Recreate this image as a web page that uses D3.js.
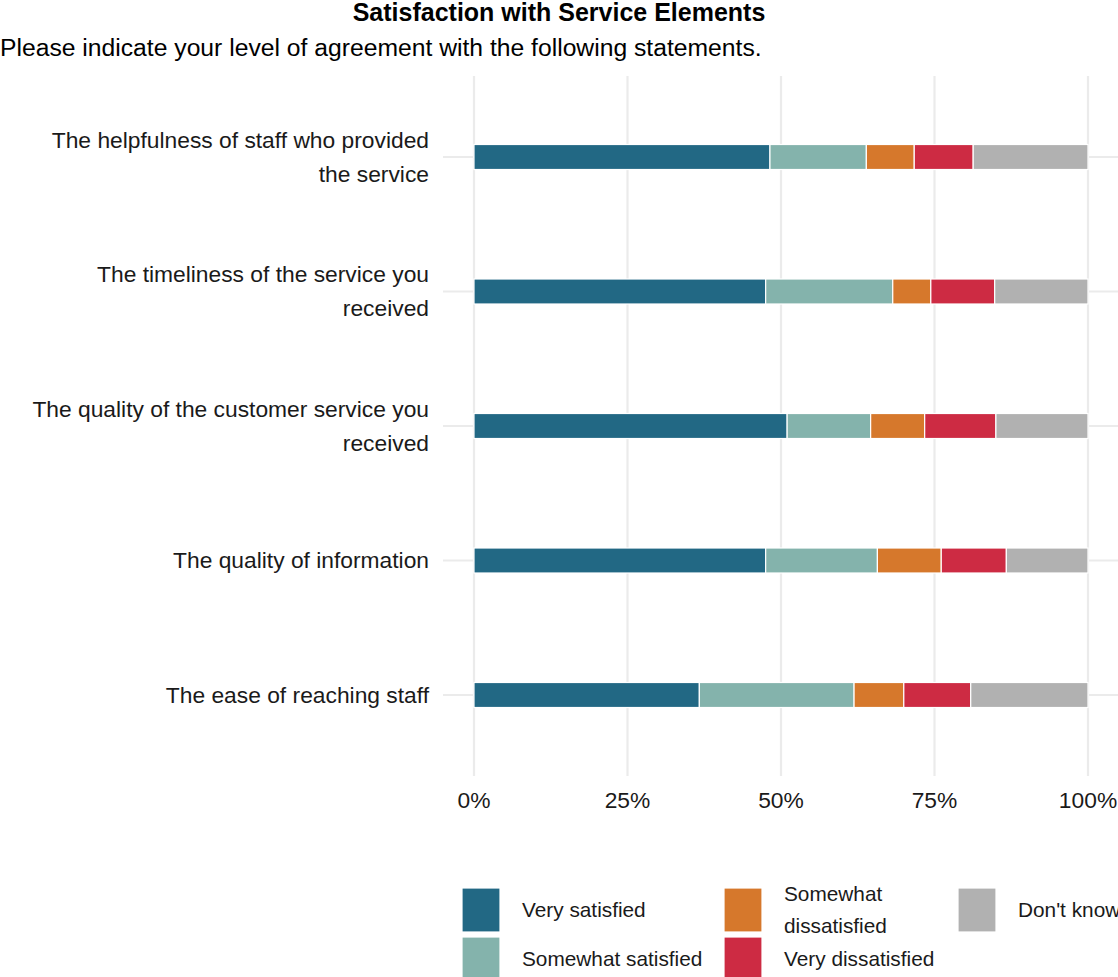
<!DOCTYPE html>
<html>
<head>
<meta charset="utf-8">
<script src="https://cdn.jsdelivr.net/npm/d3@7"></script>
<style>
  body { margin: 0; background: #fff; }
  text { font-family: "Liberation Sans", Arial, sans-serif; }
</style>
</head>
<body>
<svg id="chart" width="1118" height="977"></svg>
<script>
// data (percent of respondents)
var categories = [
  "The helpfulness of staff who provided the service",
  "The timeliness of the service you received",
  "The quality of the customer service you received",
  "The quality of information",
  "The ease of reaching staff"
];
var responses = ["Very satisfied", "Somewhat satisfied", "Somewhat dissatisfied", "Very dissatisfied", "Don't know"];
var verySatisfied     = [48.2, 47.5, 51.0, 47.5, 36.7];
var somewhatSatisfied = [15.7, 20.7, 13.6, 18.2, 25.2];
var somewhatDissat    = [7.8, 6.2, 8.8, 10.4, 8.1];
var veryDissat        = [9.6, 10.4, 11.6, 10.6, 10.9];
var dontKnow          = [18.7, 15.2, 15.0, 13.3, 19.1];
var colours = ["#226884", "#84b3ac", "#d6782c", "#cd2b43", "#b1b1b1"];
var xTicks = [0, 0.25, 0.5, 0.75, 1];

var svg = d3.select("#chart");

var rows = categories.map(function(c, i) {
  return {
    cat: c,
    "Very satisfied": verySatisfied[i],
    "Somewhat satisfied": somewhatSatisfied[i],
    "Somewhat dissatisfied": somewhatDissat[i],
    "Very dissatisfied": veryDissat[i],
    "Don't know": dontKnow[i]
  };
});
// normalise each row to 1
var stacked = d3.stack().keys(responses).offset(d3.stackOffsetExpand)(rows);

var x = d3.scaleLinear().domain([0, 1]).range([474, 1088]);
var y = d3.scalePoint().domain(categories).range([157, 695]);
var colour = d3.scaleOrdinal().domain(responses).range(colours);
var panel = {left: 443, right: 1118, top: 76, bottom: 776};
var barH = 25;

// grid
svg.append("g").selectAll("line.v")
  .data(xTicks).enter().append("line")
  .attr("x1", function(d) { return x(d); })
  .attr("x2", function(d) { return x(d); })
  .attr("y1", panel.top).attr("y2", panel.bottom)
  .attr("stroke", "#ebebeb").attr("stroke-width", 2.2);
svg.append("g").selectAll("line.h")
  .data(categories).enter().append("line")
  .attr("x1", panel.left).attr("x2", panel.right)
  .attr("y1", function(d) { return y(d); })
  .attr("y2", function(d) { return y(d); })
  .attr("stroke", "#ebebeb").attr("stroke-width", 2.2);

// bars
svg.append("g").selectAll("g")
  .data(stacked).enter().append("g")
  .attr("fill", function(d) { return colour(d.key); })
  .selectAll("rect")
  .data(function(d) { return d; }).enter().append("rect")
  .attr("x", function(d) { return x(d[0]); })
  .attr("width", function(d) { return x(d[1]) - x(d[0]); })
  .attr("y", function(d) { return y(d.data.cat) - barH / 2; })
  .attr("height", barH)
  .attr("stroke", "#ffffff").attr("stroke-width", 1.2);

// y labels, wrapped at 40 chars like str_wrap
function wrap(s, w) {
  var words = s.split(" "), lines = [], cur = "";
  words.forEach(function(wd) {
    if (cur && (cur + " " + wd).length > w) { lines.push(cur); cur = wd; }
    else cur = cur ? cur + " " + wd : wd;
  });
  lines.push(cur);
  return lines;
}
var lineH = 34;
svg.append("g").selectAll("text")
  .data(categories).enter().append("text")
  .attr("text-anchor", "end")
  .attr("font-size", 22.8)
  .attr("fill", "#1a1a1a")
  .each(function(d) {
    var lines = wrap(d, 40);
    var t = d3.select(this);
    lines.forEach(function(l, i) {
      t.append("tspan")
        .attr("x", 429)
        .attr("y", y(d) + (i - (lines.length - 1) / 2) * lineH)
        .attr("dy", "0.35em")
        .text(l);
    });
  });

// x axis labels
svg.append("g").selectAll("text")
  .data(xTicks).enter().append("text")
  .attr("x", function(d) { return x(d); })
  .attr("y", 800).attr("dy", "0.35em")
  .attr("text-anchor", "middle")
  .attr("font-size", 22.8).attr("fill", "#1a1a1a")
  .text(d3.format(".0%"));

// titles
svg.append("text")
  .attr("x", 559).attr("y", 21)
  .attr("text-anchor", "middle")
  .attr("font-size", 25).attr("font-weight", "bold")
  .text("Satisfaction with Service Elements");
svg.append("text")
  .attr("x", 0).attr("y", 56)
  .attr("font-size", 24.7)
  .text("Please indicate your level of agreement with the following statements.");

// legend: 3 columns, filled by column
var legCols = [462, 724, 958];
var legRows = [888, 937];
var keyW = 38, keyH = 44;
var leg = svg.append("g").selectAll("g")
  .data(responses).enter().append("g")
  .attr("transform", function(d, i) {
    return "translate(" + legCols[Math.floor(i / 2)] + "," + legRows[i % 2] + ")";
  });
leg.append("rect")
  .attr("width", keyW).attr("height", keyH)
  .attr("fill", function(d) { return colour(d); })
  .attr("stroke", "#ffffff").attr("stroke-width", 1.2);
leg.append("text")
  .attr("font-size", 20.8)
  .attr("fill", "#1a1a1a")
  .each(function(d) {
    var lines = d == "Somewhat dissatisfied" ? ["Somewhat", "dissatisfied"] : [d];
    var t = d3.select(this);
    lines.forEach(function(l, i) {
      t.append("tspan")
        .attr("x", 60)
        .attr("y", keyH / 2 + (i - (lines.length - 1) / 2) * 32)
        .attr("dy", "0.35em")
        .text(l);
    });
  });
</script>
</body>
</html>
